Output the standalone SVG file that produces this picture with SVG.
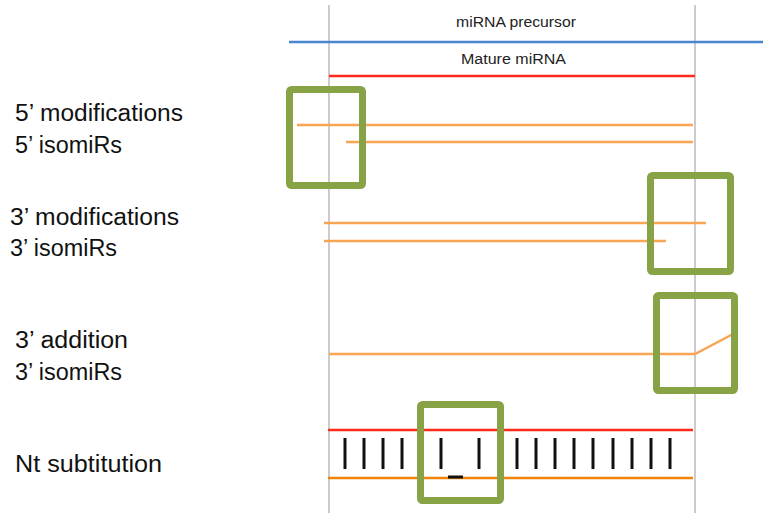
<svg xmlns="http://www.w3.org/2000/svg" width="763" height="513" viewBox="0 0 763 513">
<style>
.lbl{font-family:"Liberation Sans",Arial,sans-serif;font-size:23.5px;fill:#111}
.sm{font-family:"Liberation Sans",Arial,sans-serif;font-size:14px;fill:#222}
.guide{stroke:#b0b0b0;stroke-width:1.3;fill:none}
.box{fill:none;stroke:#88A246;stroke-width:7;stroke-linejoin:round}
.iso{stroke:#F9A553;stroke-width:2.5;fill:none}
.red{stroke:#FF2A1A;stroke-width:2.5}
.tick{stroke:#111;stroke-width:3}
</style>
<rect width="763" height="513" fill="#fff"/>
<g id="guides">
<line class="guide" x1="329" y1="5" x2="329" y2="513"/>
<line class="guide" x1="695" y1="5" x2="695" y2="513"/>
</g>
<g id="precursor">
<text class="sm" x="456" y="27" textLength="120" lengthAdjust="spacingAndGlyphs">miRNA precursor</text>
<line x1="289" y1="42" x2="763" y2="42" stroke="#4A86CF" stroke-width="2.5"/>
</g>
<g id="mature">
<text class="sm" x="461" y="64" textLength="105" lengthAdjust="spacingAndGlyphs">Mature miRNA</text>
<line class="red" x1="329" y1="76" x2="695" y2="76"/>
</g>
<g id="connectors">
<line class="iso" x1="297" y1="125" x2="693" y2="125"/>
<line class="iso" x1="346" y1="142" x2="693" y2="142"/>
<line class="iso" x1="324" y1="223" x2="706" y2="223"/>
<line class="iso" x1="324" y1="241" x2="666" y2="241"/>
<polyline class="iso" points="329,354 695,354 735,333"/>
<line class="red" x1="328" y1="430" x2="693" y2="430"/>
<line x1="328" y1="478" x2="693" y2="478" stroke="#F0840A" stroke-width="2.5"/>
<g class="tick">
<line x1="345" y1="438" x2="345" y2="469"/>
<line x1="364" y1="438" x2="364" y2="469"/>
<line x1="383" y1="438" x2="383" y2="469"/>
<line x1="402" y1="438" x2="402" y2="469"/>
<line x1="441" y1="438" x2="441" y2="469"/>
<line x1="479" y1="438" x2="479" y2="469"/>
<line x1="517" y1="438" x2="517" y2="469"/>
<line x1="536" y1="438" x2="536" y2="469"/>
<line x1="555" y1="438" x2="555" y2="469"/>
<line x1="574" y1="438" x2="574" y2="469"/>
<line x1="593" y1="438" x2="593" y2="469"/>
<line x1="613" y1="438" x2="613" y2="469"/>
<line x1="632" y1="438" x2="632" y2="469"/>
<line x1="651" y1="438" x2="651" y2="469"/>
<line x1="670" y1="438" x2="670" y2="469"/>
<line x1="448" y1="477" x2="463" y2="477"/>
</g>
</g>
<g id="box5"><rect class="box" x="289.5" y="89.5" width="73" height="96" rx="2"/></g>
<g id="box3mod"><rect class="box" x="650.5" y="175.5" width="80" height="96" rx="2"/></g>
<g id="box3add"><rect class="box" x="656.5" y="295.5" width="78" height="95" rx="2"/></g>
<g id="boxnt"><rect class="box" x="420.5" y="404.5" width="80" height="96" rx="2"/></g>
<g id="label5mod"><text class="lbl" x="15" y="121" textLength="168" lengthAdjust="spacingAndGlyphs">5’ modifications</text><text class="lbl" x="15" y="153" textLength="107" lengthAdjust="spacingAndGlyphs">5’ isomiRs</text></g>
<g id="label3mod"><text class="lbl" x="10" y="225" textLength="169" lengthAdjust="spacingAndGlyphs">3’ modifications</text><text class="lbl" x="10" y="256" textLength="107" lengthAdjust="spacingAndGlyphs">3’ isomiRs</text></g>
<g id="label3add"><text class="lbl" x="15" y="348" textLength="113" lengthAdjust="spacingAndGlyphs">3’ addition</text><text class="lbl" x="15" y="380" textLength="107" lengthAdjust="spacingAndGlyphs">3’ isomiRs</text></g>
<g id="labelnt"><text class="lbl" x="15" y="472" textLength="147" lengthAdjust="spacingAndGlyphs">Nt subtitution</text></g>
</svg>
